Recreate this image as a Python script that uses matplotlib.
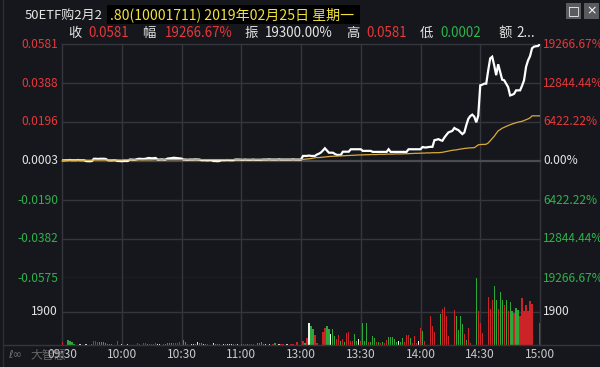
import matplotlib
matplotlib.use("Agg")
import matplotlib.pyplot as plt
from matplotlib.patches import Rectangle
from matplotlib.lines import Line2D
import numpy as np

plt.rcParams['font.family'] = ['Noto Sans CJK SC', 'DejaVu Sans']

# ---------------- data ----------------
# price in units of 0.0001, one value per minute (09:30..11:30, 13:01..15:00)
price_am = [6, 6,
            7, 7, 8, 7, 7, 7, 8, 7, 7, 7,
            3, 2, 2, 3,
            14, 14, 13, 14, 14, 14, 13,
            7, 6, 6, 7, 6,
            3, 3, 2, 3, 3, 3,
            10, 10, 9, 10,
            13, 14, 13, 13, 14,
            17, 18, 16, 17, 18,
            10, 10, 11, 10, 10,
            15, 16, 17, 19, 18, 17, 16, 15,
            10, 10, 9, 10, 10, 10, 11, 10, 10,
            7, 7, 7, 6, 7, 7,
            3, 3, 2, 3,
            7, 7, 7, 8, 7, 7, 7,
            10, 10, 10,
            9, 9, 10, 9, 9, 9, 10, 9, 9, 9, 9,
            10, 10, 10, 11, 10, 10, 10, 10, 11, 10, 10, 10, 10, 10, 10, 11, 10, 10, 10, 10]
price_pm = [28, 28, 28, 30, 28, 28, 28,
            35, 39, 45, 55, 66,
            55, 44, 44, 44, 38, 33, 33, 33,
            49, 49, 49, 49, 61, 61, 61, 61, 61, 61,
            53, 53, 53, 53, 53, 48, 48, 48, 48, 48,
            48, 48, 48, 61, 48, 48, 48, 48, 48, 48,
            48, 48, 48, 61, 61, 61, 61, 61, 61, 61,
            72, 70, 70, 72, 73, 73, 106, 108, 111, 106,
            103, 119, 132, 144, 148, 152, 166, 160, 156, 146,
            136, 144, 180, 211, 225, 232, 222, 194, 227, 377,
            380, 385, 385, 451, 510, 518, 476, 427, 481, 443,
            405, 402, 385, 368, 327, 330, 335, 352, 352, 352,
            375, 402, 468, 500, 521, 560, 568, 570, 571, 581]

avg_am = [6, 6, 7, 7, 7, 7, 7, 7, 7, 7,
          7, 7, 7, 7, 7, 7, 8, 8, 8, 8,
          8, 8, 8, 8, 8, 8, 8, 8, 8, 8,
          8, 9, 9, 9, 9, 9, 9, 9, 9, 9,
          9, 9, 9, 9, 9, 9, 10, 10, 10, 10,
          10, 10, 10, 10, 10, 10, 10, 10, 10, 10,
          10, 10, 10, 10, 10, 10, 10, 10, 10, 10,
          10, 10, 10, 10, 10, 10, 10, 10, 10, 10,
          10, 10, 10, 10, 10, 10, 10, 10, 10, 10,
          10, 10, 10, 10, 10, 10, 10, 10, 10, 10,
          10, 10, 10, 10, 10, 10, 10, 10, 10, 10,
          10, 10, 10, 10, 10, 10, 10, 10, 10, 10,
          10]
avg_pm = [11, 12, 13, 14, 15, 17, 19, 20, 20, 21,
          22, 23, 24, 25, 26, 26, 27, 27, 28, 28,
          29, 29, 30, 30, 31, 31, 32, 32, 33, 33,
          33, 34, 34, 34, 35, 35, 35, 35, 36, 36,
          36, 36, 37, 37, 37, 37, 38, 38, 38, 38,
          38, 39, 39, 39, 40, 40, 41, 41, 41, 42,
          42, 42, 43, 43, 43, 44, 44, 44, 44, 45,
          46, 48, 50, 52, 54, 56, 57, 58, 60, 62,
          63, 65, 66, 67, 68, 68, 69, 75, 83, 84,
          85, 85, 86, 92, 103, 114, 125, 139, 152, 158,
          165, 169, 174, 178, 182, 186, 189, 192, 195, 197,
          199, 203, 207, 211, 216, 226, 226, 226, 226, 226]

vol_am = [170, 0, 0, 270, 230, 150, 80, 0, 0, 40,
          0, 0, 40, 0, 0, 80, 210, 210, 190, 150,
          150, 150, 115, 80, 80, 80, 0, 0, 230, 0,
          80, 0, 0, 80, 0, 0, 0, 0, 115, 80,
          0, 115, 115, 80, 80, 80, 80, 115, 80, 80,
          0, 80, 80, 115, 115, 115, 135, 135, 135, 150,
          0, 310, 190, 80, 0, 80, 80, 80, 190, 115,
          115, 80, 80, 80, 0, 0, 115, 80, 80, 80,
          0, 80, 80, 80, 80, 80, 80, 80, 80, 0,
          80, 80, 80, 80, 80, 80, 80, 0, 115, 115,
          150, 80, 80, 0, 80, 0, 80, 115, 0, 80,
          80, 80, 0, 80, 0, 80, 80, 0, 190, 0,
          0]
vol_pm = [230, 100, 400, 1270, 1050, 900, 580, 100, 0, 0,
          750, 980, 1050, 900, 630, 900, 520, 340, 580, 230,
          340, 170, 690, 720, 240, 230, 630, 230, 340, 230,
          1270, 230, 1270, 170, 170, 520, 400, 150, 170, 115,
          170, 100, 290, 460, 460, 440, 350, 170, 230, 170,
          400, 170, 580, 580, 400, 115, 520, 115, 230, 940,
          800, 250, 0, 0, 1632, 1056, 710, 0, 0, 1786,
          2054, 2170, 1632, 518, 0, 0, 1958, 1632, 864, 1670,
          1210, 634, 288, 960, 96, 0, 0, 3780, 1920, 1248,
          672, 0, 0, 2746, 2016, 2554, 3322, 2534, 2016, 3014,
          2534, 2246, 2534, 1920, 2438, 1920, 1824, 2074, 1978, 1632,
          2688, 1920, 2266, 1920, 2496, 2342, 0, 0, 0, 1248]

dir_am = ("rwwggggwww" "wwwwwgrrrg" "ggggggwwrw" "wwwwwwwwrr" "wrrgrrrrww"
          "wrggggrrrr" "wggrwwwgwg" "gwgrwwwggg" "wwgwwwgrww" "grrgrrrwgg"
          "ggwwwwrgww" "rrwwwrrwrw" "w")
dir_pm = ("rgrwggrrww" "rrggwggrrg" "rgrrrrggwr" "gggrgggrgr" "grrgggggwg"
          "grrrgrrrwr" "grwwrrrwwg" "rrrrwwrggg" "grgrrwwgrr" "rwwrrrggrg"
          "grgrggrggr" "rrrrrrwwwr")

prev_close = 0.0003
left_ticks = [0.0581, 0.0388, 0.0196, 0.0003, -0.0190, -0.0382, -0.0575]
left_labels = ['0.0581', '0.0388', '0.0196', '0.0003', '-0.0190', '-0.0382', '-0.0575']
right_labels = ['19266.67%', '12844.44%', '6422.22%', '0.00%', '6422.22%', '12844.44%', '19266.67%']
vol_tick = 1900
vol_max = 3800
time_labels = ['09:30', '10:00', '10:30', '11:00', '13:00', '13:30', '14:00', '14:30', '15:00']
title_white = '50ETF购2月2'
title_yellow = '.80(10001711) 2019年02月25日 星期一'
info_items = [('收', 'w'), ('0.0581', 'r'), ('幅', 'w'), ('19266.67%', 'r'), ('振', 'w'),
              ('19300.00%', 'w'), ('高', 'w'), ('0.0581', 'r'), ('低', 'w'), ('0.0002', 'g'),
              ('额', 'w'), ('2...', 'w')]

# ---------------- style ----------------
W, H = 600, 367
BG = '#16171c'
GRID = '#34363b'
RED = '#e5383b'
GREEN = '#2db34a'
WHITE = '#e6e6e6'
YEL = '#f2e33c'
AVG = '#d9a93c'
BAR = {'r': '#cc2328', 'g': '#2ca83a', 'w': '#f0f0f0'}
TXT = {'r': RED, 'g': GREEN, 'w': WHITE}

price = np.array(price_am + price_pm) / 10000.0
avg = np.array(avg_am + avg_pm) / 10000.0
vol = np.array(vol_am + vol_pm, dtype=float)
dirs = list(dir_am + dir_pm)
idx = np.arange(len(price))

fig = plt.figure(figsize=(6, 3.67), dpi=100, facecolor=BG)


def fx(x):
    return x / W


def fy(y):
    return 1 - y / H


L, R = 62, 540
TOP, VTOP, BOT = 44, 278, 345

axp = fig.add_axes([fx(L), fy(VTOP), (R - L) / W, (VTOP - TOP) / H])
axv = fig.add_axes([fx(L), fy(BOT), (R - L) / W, (BOT - VTOP) / H])
for ax in (axp, axv):
    ax.set_facecolor(BG)
    for s in ax.spines.values():
        s.set_visible(False)
    ax.set_xticks([])
    ax.set_yticks([])
    ax.set_xlim(0, 240)
    for k in range(0, 241, 30):
        ax.axvline(k, color=GRID, lw=1, zorder=0, clip_on=False)

axp.set_ylim(left_ticks[-1], left_ticks[0])
for v in left_ticks:
    if abs(v - prev_close) < 1e-9:
        axp.axhline(v, color='#4a4c52', lw=1.6, zorder=0, clip_on=False)
    else:
        axp.axhline(v, color=GRID, lw=1, zorder=0, clip_on=False)

axp.plot(idx, price, color='white', lw=1.6, zorder=3, solid_joinstyle='miter')
axp.plot(idx, avg, color=AVG, lw=0.9, zorder=4)

axv.set_ylim(0, vol_max)
axv.axhline(vol_tick, color=GRID, lw=1, zorder=0)
axv.bar(idx, vol, width=0.62, color=[BAR[d] for d in dirs], linewidth=0, zorder=2)

# bottom line & left border
fig.add_artist(Line2D([fx(3), 1], [fy(BOT), fy(BOT)], color=GRID, lw=1))
fig.add_artist(Line2D([fx(3), fx(3)], [0, 1], color='#2c2e33', lw=1))

# axis labels
for v, lab, rl in zip(left_ticks, left_labels, right_labels):
    if v > prev_close + 1e-9:
        c = RED
    elif v < prev_close - 1e-9:
        c = GREEN
    else:
        c = WHITE
    yy = fy(TOP + (left_ticks[0] - v) / (left_ticks[0] - left_ticks[-1]) * (VTOP - TOP))
    fig.text(fx(58), yy, lab, color=c, ha='right', va='center', fontsize=8.6)
    fig.text(fx(543), yy, rl, color=c, ha='left', va='center', fontsize=8.6)

yv = fy(BOT - vol_tick / vol_max * (BOT - VTOP))
fig.text(fx(58), yv, str(vol_tick), color=WHITE, ha='right', va='center', fontsize=8.6)
fig.text(fx(543), yv, str(vol_tick), color=WHITE, ha='left', va='center', fontsize=8.6)

for k, t in enumerate(time_labels):
    fig.text(fx(L + k * (R - L) / 8), fy(355), t, color='#c8c8c8', ha='center', va='center', fontsize=8.6)
fig.text(fx(8), fy(355), 'ℓ∞', color='#8a8a8a', ha='left', va='center', fontsize=8, alpha=0.8,
         family=['DejaVu Sans'])
fig.text(fx(30), fy(355), '大智慧', color='#9a9a9a', ha='left', va='center', fontsize=8.6, alpha=0.6)

# header
fig.text(fx(25), fy(15), title_white, color=WHITE, ha='left', va='center', fontsize=9.4)
fig.add_artist(Rectangle((fx(107), fy(24)), (360 - 107) / W, 19 / H, transform=fig.transFigure,
                         facecolor='black', edgecolor='none'))
fig.text(fx(110), fy(15), title_yellow, color=YEL, ha='left', va='center', fontsize=10.1)

info_x = [68, 88, 142, 165, 244, 265, 346, 366, 420, 440, 498, 516]
for (t, c), x in zip(info_items, info_x):
    fig.text(fx(x), fy(33), t, color=TXT[c], ha='left', va='center', fontsize=9.6)

# window buttons
for x0, sym in ((566, '□'), (584, '×')):
    fig.add_artist(Rectangle((fx(x0), fy(19)), 15 / W, 16 / H, transform=fig.transFigure,
                             facecolor='#5a5b5e', edgecolor='none'))
    fig.text(fx(x0 + 7.5), fy(11), sym, color='white', ha='center', va='center', fontsize=9,
             family=['DejaVu Sans'])

fig.savefig('out.png', dpi=100, facecolor=BG)
